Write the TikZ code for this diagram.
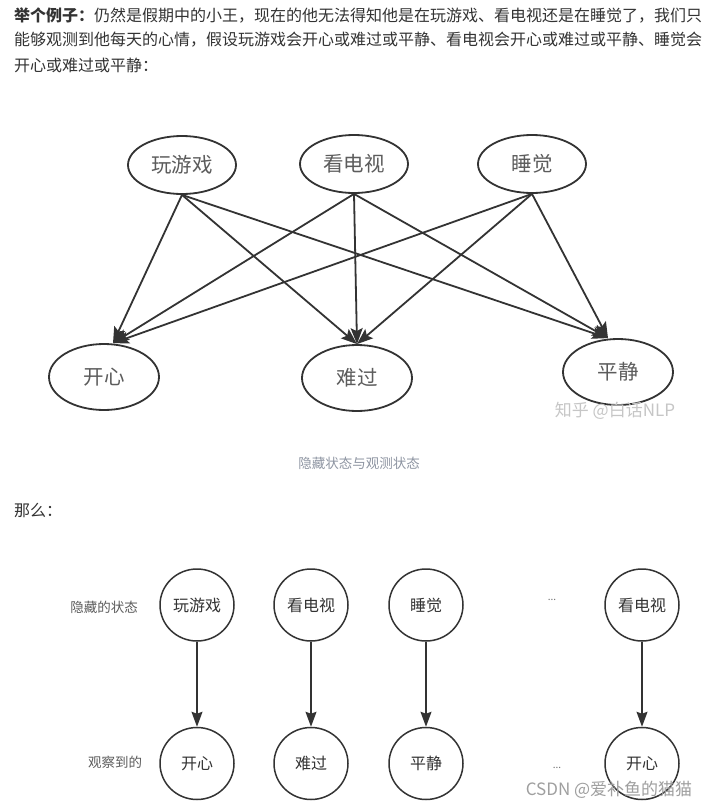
\documentclass[tikz,border=0pt]{standalone}
\usepackage{fontspec}
\setmainfont{Noto Sans CJK SC}
\usetikzlibrary{positioning, arrows.meta, shapes.geometric}

\definecolor{ink}{HTML}{333333}
\definecolor{capgray}{HTML}{8E95A2}

\begin{document}
\begin{tikzpicture}[x=1pt, y=-1pt,
    para/.style={anchor=west, inner sep=0pt, text=ink, font=\fontsize{16}{20}\selectfont},
    state node/.style={draw=ink, ellipse, line width=1.8pt, inner sep=0pt,
        minimum width=108pt, minimum height=58pt, text=ink!80,
        font=\fontsize{20.5}{24}\selectfont},
    mood node/.style={state node, minimum width=110pt, minimum height=66pt},
    chain node/.style={draw=ink, ellipse, line width=1.5pt, inner sep=0pt,
        minimum width=74pt, minimum height=72pt, text=ink,
        font=\fontsize{16}{19}\selectfont},
    emit/.style={-{Stealth[length=16pt, width=12pt, inset=3pt]}, line width=1.8pt, draw=ink},
    trans/.style={-{Stealth[length=15pt, width=11pt, inset=2pt]}, line width=1.5pt, draw=ink},
    side lbl/.style={font=\fontsize{13.5}{16}\selectfont, text=ink!80},
    dots/.style={font=\fontsize{10}{12}\selectfont, text=ink!70},
    wm/.style={font=\fontsize{17}{20}\selectfont, text=#1}
]

% fond blanc et cadre
\fill[white] (0,0) rectangle (720,809);
\useasboundingbox (0,0) rectangle (720,809);

% ------------------------------------------------------------------------------
% 1. TEXTE D'INTRODUCTION
% ------------------------------------------------------------------------------
\node[para] (intro1) at (14,15) {{\bfseries 举个例子：}仍然是假期中的小王，现在的他无法得知他是在玩游戏、看电视还是在睡觉了，我们只};
\node[para] (intro2) at (14,40) {能够观测到他每天的心情，假设玩游戏会开心或难过或平静、看电视会开心或难过或平静、睡觉会};
\node[para] (intro3) at (14,65) {开心或难过或平静：};

% ------------------------------------------------------------------------------
% 2. ETATS CACHES -> OBSERVATIONS
% ------------------------------------------------------------------------------
\node[state node] (play) at (182,165) {玩游戏};
\node[state node] (tv) at (354,164) {看电视};
\node[state node] (sleep) at (532,164) {睡觉};

\node[mood node] (happy) at (104,377) {开心};
\node[mood node] (sad) at (357,378) {难过};
\node[mood node] (calm) at (618,372) {平静};

\coordinate (happy in) at ([xshift=9pt]happy.north);
\coordinate (calm in) at ([xshift=-10pt]calm.north);

\foreach \src in {play, tv, sleep} {
    \draw[emit] (\src.south) -- (happy in);
    \draw[emit] (\src.south) -- (sad.north);
    \draw[emit] (\src.south) -- (calm in);
}

\node[wm=gray!45] (zhihu) at (615,411) {知乎 @白话NLP};
\node[font=\fontsize{13.5}{16}\selectfont, text=capgray] (cap) at (359,463) {隐藏状态与观测状态};

\node[para] (then) at (14,510) {那么：};

% ------------------------------------------------------------------------------
% 3. SEQUENCE
% ------------------------------------------------------------------------------
\node[side lbl] (hidlbl) at (104,607) {隐藏的状态};
\node[side lbl] (obslbl) at (115,762) {观察到的};

\foreach \name/\x/\txt in {h1/197/玩游戏, h2/311/看电视, h3/426/睡觉, h4/642/看电视}
    \node[chain node] (\name) at (\x,605) {\txt};

\foreach \name/\up/\txt in {o1/h1/开心, o2/h2/难过, o3/h3/平静, o4/h4/开心} {
    \node[chain node, below=85pt of \up] (\name) {\txt};
    \draw[trans] (\up.south) -- (\name.north);
}

\node[dots] (gaptop) at (552,600) {...};
\node[dots] (gapbot) at (557,768) {...};

\node[wm=gray!75] (csdn) at (609,790) {CSDN @爱补鱼的猫猫};

\end{tikzpicture}
\end{document}
